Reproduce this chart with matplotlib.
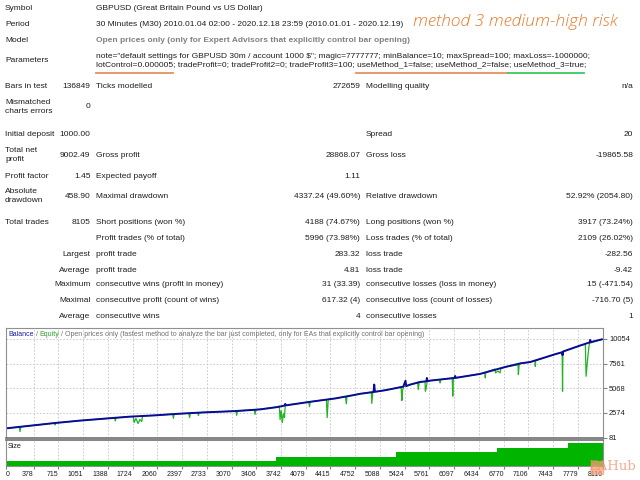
import numpy as np
import matplotlib.pyplot as plt
from matplotlib import font_manager
from matplotlib.lines import Line2D
from matplotlib.patches import FancyBboxPatch

names = set(f.name for f in font_manager.fontManager.ttflist)
base_font = 'Liberation Sans Narrow' if 'Liberation Sans Narrow' in names else 'Liberation Sans'
plt.rcParams['font.family'] = [base_font, 'DejaVu Sans']

# report header
head_labels = ["Symbol", "Period", "Model", "Parameters"]
head_values = ["GBPUSD (Great Britain Pound vs US Dollar)",
               "30 Minutes (M30) 2010.01.04 02:00 - 2020.12.18 23:59 (2010.01.01 - 2020.12.19)",
               "Open prices only (only for Expert Advisors that explicitly control bar opening)",
               'note="default settings for GBPUSD 30m / account 1000 $"; magic=7777777; minBalance=10; maxSpread=100; maxLoss=-1000000;\n'
               'lotControl=0.000005; tradeProfit=0; tradeProfit2=0; tradeProfit3=100; useMethod_1=false; useMethod_2=false; useMethod_3=true;']
title = "method 3 medium-high risk"

# summary rows: label, value, label, value, label, value
stats = [
    ("Bars in test", "136849", "Ticks modelled", "272659", "Modelling quality", "n/a"),
    ("Mismatched\ncharts errors", "0", "", "", "", ""),
    ("Initial deposit", "1000.00", "", "", "Spread", "20"),
    ("Total net\nprofit", "9002.49", "Gross profit", "28868.07", "Gross loss", "-19865.58"),
    ("Profit factor", "1.45", "Expected payoff", "1.11", "", ""),
    ("Absolute\ndrawdown", "458.90", "Maximal drawdown", "4337.24 (49.60%)", "Relative drawdown", "52.92% (2054.80)"),
    ("Total trades", "8105", "Short positions (won %)", "4188 (74.67%)", "Long positions (won %)", "3917 (73.24%)"),
]
trade_rows = [
    ("", "Profit trades (% of total)", "5996 (73.98%)", "Loss trades (% of total)", "2109 (26.02%)"),
    ("Largest", "profit trade", "283.32", "loss trade", "-282.56"),
    ("Average", "profit trade", "4.81", "loss trade", "-9.42"),
    ("Maximum", "consecutive wins (profit in money)", "31 (33.39)", "consecutive losses (loss in money)", "15 (-471.54)"),
    ("Maximal", "consecutive profit (count of wins)", "617.32 (4)", "consecutive loss (count of losses)", "-716.70 (5)"),
    ("Average", "consecutive wins", "4", "consecutive losses", "1"),
]

# balance curve (trade number, balance)
bal_t = [0, 195, 671, 1010, 1350, 1690, 2030, 2370, 2700, 3118, 3458, 3685, 3790, 3800, 3810,
         4140, 4480, 4725, 4820, 5000, 5010, 5020, 5160, 5405, 5435, 5445, 5500, 5634, 5720,
         5725, 5735, 5770, 6100, 6110, 6120, 6450, 6790, 6995, 7130, 7470, 7565, 7570, 7580,
         7810, 7940, 7945, 7955, 8105]
bal_v = [1000, 1160, 1547, 1788, 1990, 2190, 2320, 2490, 2620, 2750, 2920, 3150, 3300, 3480, 3330,
         3690, 4030, 4360, 4500, 4680, 5430, 4700, 4860, 5220, 5830, 5280, 5430, 5700, 5760,
         6100, 5780, 5830, 6100, 6300, 6110, 6510, 7210, 7570, 7710, 8500, 8700, 8400, 8780,
         9380, 9700, 9950, 9730, 10002]

# equity curve (trade number, equity)
eq_t = [0, 185, 195, 205, 660, 671, 682, 1010, 1350, 1480, 1490, 1500, 1690, 1735, 1745, 1770,
        1800, 1825, 1850, 1860, 2030, 2270, 2280, 2290, 2490, 2500, 2510, 2610, 2620, 2630,
        2700, 3130, 3140, 3150, 3380, 3390, 3400, 3685, 3720, 3730, 3745, 3760, 3775, 3790,
        3800, 4120, 4130, 4140, 4360, 4370, 4385, 4480, 4620, 4630, 4640, 4820, 4970, 4977,
        4990, 5160, 5375, 5386, 5395, 5405, 5500, 5600, 5610, 5620, 5700, 5705, 5715, 5730,
        5770, 5900, 5906, 5915, 6070, 6078, 6086, 6100, 6450, 6515, 6520, 6525, 6650, 6660,
        6690, 6720, 6730, 6790, 6965, 6970, 6980, 6995, 7130, 7195, 7200, 7205, 7470, 7565,
        7570, 7575, 7580, 7810, 7880, 7890, 7905, 7920, 7935, 8105]
eq_v = [1000, 1150, 680, 1165, 1540, 1345, 1550, 1788, 1990, 2065, 1750, 2075, 2190, 2195, 1600, 2000,
        1490, 1900, 1700, 2250, 2320, 2445, 2020, 2455, 2535, 2090, 2545, 2585, 2300, 2595,
        2620, 2755, 2320, 2765, 2885, 2420, 2895, 3150, 3240, 1900, 2800, 1590, 2500, 2100,
        3330, 3670, 3190, 3690, 3910, 2090, 3930, 4030, 4220, 3490, 4240, 4500, 4660, 3525,
        4670, 4860, 5190, 3825, 4800, 5220, 5430, 5610, 4930, 5625, 5760, 4760, 5000, 5765,
        5830, 5935, 5600, 5945, 6080, 4260, 6095, 6100, 6510, 6650, 6105, 6670, 7000, 6610,
        6800, 6610, 7030, 7210, 7430, 6440, 7450, 7570, 7710, 7835, 7270, 7845, 8500, 8700,
        4760, 8705, 8780, 9380, 9500, 6270, 7500, 8700, 9600, 10002]

# lot size steps
size_edges = [0, 3680, 5304, 6678, 7650, 8116]
size_lots = [0.01, 0.02, 0.03, 0.04, 0.05]

y_ticks = [81, 2574, 5068, 7561, 10054]
x_ticks = [0, 378, 715, 1051, 1388, 1724, 2060, 2397, 2733, 3070, 3406, 3742, 4079, 4415,
           4752, 5088, 5424, 5761, 6097, 6434, 6770, 7106, 7443, 7779, 8116]

W, H = 640, 480
fig = plt.figure(figsize=(6.4, 4.8), dpi=100)
fs = 6.05
txt = '#1e1e1e'


def put(x, y, s, **kw):
    kw.setdefault('fontsize', fs)
    kw.setdefault('color', txt)
    return fig.text(x / W, 1 - y / H, s, va='center', **kw)


c1, v1, c2, v2, c3, v3 = 5, 90.5, 96, 360, 366, 633

head_y = [9, 25, 41, 61]
for lab, val, y in zip(head_labels, head_values, head_y):
    put(c1, y, lab)
    if lab == "Model":
        put(c2, y, val, color='#808080', fontweight='bold')
    else:
        put(c2, y, val, linespacing=1.3)

put(413, 22, title, fontsize=12.6, color='#e8782a', fontstyle='italic',
    family=['Open Sans', 'DejaVu Sans'], fontweight='light')

# highlight underlines
for xa, xb, col in [(96, 173, '#e8905a'), (356, 508, '#e8905a'), (508, 584, '#3cc864')]:
    fig.add_artist(Line2D([xa / W, xb / W], [1 - 73 / H] * 2, color=col, lw=1.3))

stat_y = [87, 107, 135, 155, 176, 196, 223]
for row, y in zip(stats, stat_y):
    put(c1, y, row[0], linespacing=1.3)
    put(v1, y, row[1], ha='right')
    put(c2, y, row[2])
    put(v2, y, row[3], ha='right')
    put(c3, y, row[4])
    put(v3, y, row[5], ha='right')

trade_y = [239, 255, 270, 285, 301, 316]
for row, y in zip(trade_rows, trade_y):
    put(v1, y, row[0], ha='right')
    put(c2, y, row[1])
    put(v2, y, row[2], ha='right')
    put(c3, y, row[3])
    put(v3, y, row[4], ha='right')

# balance / equity chart
left, right = 5.7, 602.7
ax = fig.add_axes([left / W, 1 - 437.5 / H, (right - left) / W, 109.5 / H])
ax.plot(eq_t, eq_v, color='#22b422', lw=0.9)
ax.plot(bal_t, bal_v, color='#0a0a96', lw=1.4)
ax.set_xlim(0, 8116)
ax.set_ylim(81, 11150)
ax.yaxis.tick_right()
ax.set_yticks(y_ticks, labels=[str(v) for v in y_ticks])
ax.tick_params(axis='y', labelsize=5.4, length=3, color='#808080', pad=1.5, labelcolor=txt)
ax.set_xticks(x_ticks)
ax.tick_params(axis='x', length=0, labelbottom=False)
ax.grid(True, ls=(0, (2, 2)), color='#c4c4c4', lw=0.6)
for s in ax.spines.values():
    s.set_color('#909090')
    s.set_linewidth(0.8)
ax.spines['bottom'].set_color('#707070')
ax.spines['bottom'].set_linewidth(1.2)

t = ax.text(0.004, 0.945, "Balance", transform=ax.transAxes, fontsize=5.0,
            color='#1c1ca0', va='center', ha='left')
t = ax.annotate(" / ", xy=(1, 0), xycoords=t, va='bottom', fontsize=5.0, color='#707070')
t = ax.annotate("Equity", xy=(1, 0), xycoords=t, va='bottom', fontsize=5.0, color='#2aa02a')
ax.annotate(" / Open prices only (fastest method to analyze the bar just completed, only for EAs that explicitly control bar opening)",
            xy=(1, 0), xycoords=t, va='bottom', fontsize=5.0, color='#707070')

# size panel
sax = fig.add_axes([left / W, 1 - 466 / H, (right - left) / W, 26.5 / H])
sax.stairs(size_lots, size_edges, fill=True, color='#00b400')
sax.set_xlim(0, 8116)
sax.set_ylim(0, 0.058)
sax.set_yticks([])
sax.set_xticks(x_ticks, labels=[str(v) for v in x_ticks])
sax.tick_params(axis='x', labelsize=5.0, length=2, color='#808080', pad=1.5, labelcolor=txt)
for lbl in sax.get_xticklabels()[1:]:
    lbl.set_ha('right')
sax.get_xticklabels()[0].set_ha('left')
sax.grid(True, axis='x', ls=(0, (2, 2)), color='#c4c4c4', lw=0.6)
sax.set_axisbelow(True)
for s in sax.spines.values():
    s.set_color('#909090')
    s.set_linewidth(0.8)
sax.spines['top'].set_color('#707070')
sax.spines['top'].set_linewidth(1.2)
sax.text(0.004, 0.72, "Size", transform=sax.transAxes, fontsize=5.2, color=txt, va='center')

# watermark
fig.add_artist(FancyBboxPatch((592 / W, 1 - 474 / H), 11 / W, 12 / H,
                              boxstyle='round,pad=0.002', fc='#f4a078', ec='none', alpha=0.75))
fig.text(636 / W, 1 - 467 / H, "EAHub", ha='right', va='center', fontsize=9.5,
         color='#f08c64', alpha=0.7, family=['DejaVu Serif'])

fig.savefig('out.png', dpi=100, facecolor='white')
